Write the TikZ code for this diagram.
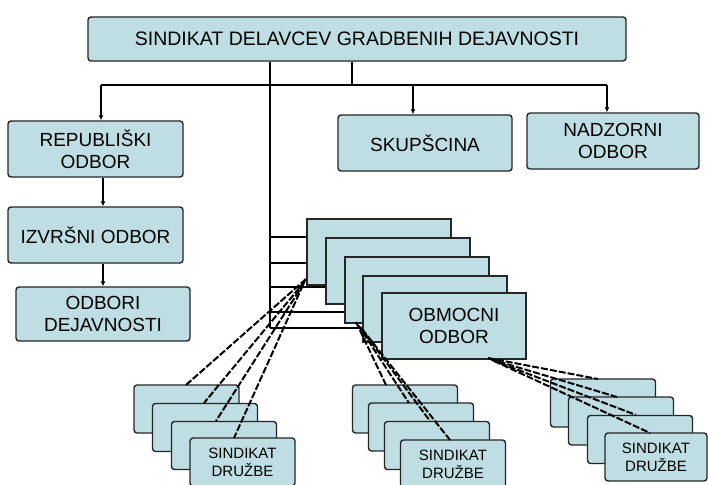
\documentclass[tikz,border=0pt]{standalone}
\usepackage{fontspec}
\setmainfont{Liberation Sans}
\usetikzlibrary{arrows.meta,backgrounds}
\definecolor{boxfill}{RGB}{190,222,228}
\begin{document}
\begin{tikzpicture}[x=1pt,y=-1pt,
  box/.style={draw=black!85, line width=1.4pt, fill=boxfill, rounded corners=3pt, align=center, inner sep=0pt, font=\fontsize{19}{22}\selectfont},
  small/.style={box, minimum width=105pt, minimum height=48pt, font=\fontsize{15}{18}\selectfont},
  obbox/.style={box, minimum width=144pt, minimum height=66pt, rounded corners=0pt},
  conn/.style={line width=1.3pt},
  arr/.style={conn, -{Latex[length=5pt,width=5pt]}},
  dl/.style={line width=2pt, dash pattern=on 7pt off 2pt}]
\useasboundingbox (0,0) rectangle (708,484);
% main boxes
\node[box, minimum width=538pt, minimum height=44pt, font=\fontsize{19.5}{22}\selectfont] (top) at (357,39) {SINDIKAT DELAVCEV GRADBENIH DEJAVNOSTI};
\node[box, minimum width=175pt, minimum height=56pt] (rep) at (95.5,149) {REPUBLIŠKI\\ODBOR};
\node[box, minimum width=175pt, minimum height=56pt] (izv) at (95.5,235) {IZVRŠNI ODBOR};
\node[box, minimum width=174pt, minimum height=54pt] (odb) at (103,314) {ODBORI\\DEJAVNOSTI};
\node[box, minimum width=174pt, minimum height=56pt] (sku) at (425,143) {SKUPŠCINA};
\node[box, minimum width=172pt, minimum height=56pt] (nad) at (613,141) {NADZORNI\\ODBOR};
% obmocni odbor stack
\node[obbox] (ob1) at (379,252) {};
\node[obbox] (ob2) at (398,271) {};
\node[obbox] (ob3) at (417,290) {};
\node[obbox] (ob4) at (435,309) {};
\node[obbox] (ob5) at (454,326) {OBMOCNI\\ODBOR};
% sindikat druzbe stacks
\node[small] (L1) at (186.5,409) {};
\node[small] (L2) at (205,427.5) {};
\node[small] (L3) at (224,445.5) {};
\node[small] (L4) at (242.5,462) {SINDIKAT\\DRUŽBE};
\node[small] (M1) at (405,409) {};
\node[small] (M2) at (421,427) {};
\node[small] (M3) at (437,445.5) {};
\node[small] (M4) at (453,464) {SINDIKAT\\DRUŽBE};
\node[small] (R1) at (603,403) {};
\node[small] (R2) at (621,421) {};
\node[small] (R3) at (640,439.5) {};
\node[small, minimum width=102pt] (R4) at (656,457) {SINDIKAT\\DRUŽBE};
% connectors behind
\begin{scope}[on background layer]
\fill[white] (0,0) rectangle (708,484);
\coordinate (hub) at (352,85);
\coordinate (ja) at (101,85);
\coordinate (jb) at (413,85);
\coordinate (jc) at (607,85);
\draw[conn] (top.south -| hub) -- (hub);
\draw[conn] (ja) -- (jc);
\coordinate (t0) at (270,61);
\coordinate (h1) at (270,237);
\coordinate (h2) at (270,263);
\coordinate (h3) at (270,287);
\coordinate (h4) at (270,312);
\coordinate (h5) at (270,328);
\draw[conn] (top.south -| t0) -- (h5);
\draw[conn] (h1) -- (h1 -| ob1.west);
\draw[conn] (h2) -- (h2 -| ob2.west);
\draw[conn] (h3) -- (h3 -| ob3.west);
\draw[conn] (h4) -- (h4 -| ob4.west);
\draw[conn] (h5) -- (h5 -| ob5.west);
\end{scope}
\draw[arr] (ja) -- (ja |- rep.north);
\draw[arr] (jb) -- (jb |- sku.north);
\draw[arr] (jc) -- (jc |- nad.north);
\coordinate (cx) at (103,0);
\draw[arr, line width=2.2pt] (rep.south -| cx) -- (izv.north -| cx);
\draw[arr, line width=2.2pt] (izv.south -| cx) -- (odb.north -| cx);
% dashed links
\coordinate (sL1) at (306,279); \coordinate (eL1) at (186,385);
\coordinate (sL2) at (305,281); \coordinate (eL2) at (204,403);
\coordinate (sL3) at (304,283); \coordinate (eL3) at (216,421);
\coordinate (sL4) at (303,285); \coordinate (eL4) at (234,438);
\coordinate (sM1) at (356,322); \coordinate (eM1) at (386,385);
\coordinate (sM2) at (358,325); \coordinate (eM2) at (409,403);
\coordinate (sM3) at (360,327); \coordinate (eM3) at (430,421);
\coordinate (sM4) at (362,329); \coordinate (eM4) at (450,440);
\coordinate (sR1) at (488,358); \coordinate (eR1) at (598,379);
\coordinate (sR2) at (490,359); \coordinate (eR2) at (617,397);
\coordinate (sR3) at (492,360); \coordinate (eR3) at (636,415);
\coordinate (sR4) at (494,361); \coordinate (eR4) at (650,433);
\foreach \g in {L,M,R}{
  \foreach \i in {1,2,3,4}{
    \draw[dl] (s\g\i) -- (e\g\i);
  }
}
\end{tikzpicture}
\end{document}
